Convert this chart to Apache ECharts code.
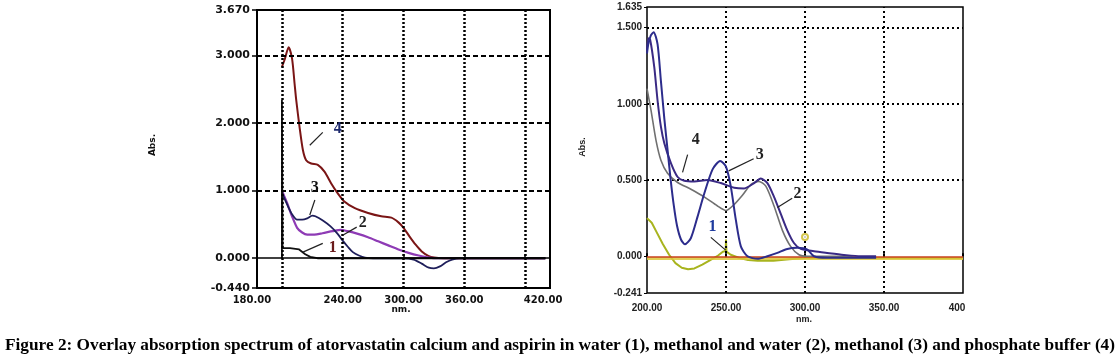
<!DOCTYPE html>
<html><head><meta charset="utf-8">
<script src="https://cdn.jsdelivr.net/npm/echarts@6/dist/echarts.min.js"></script>
<style>html,body{margin:0;padding:0;background:#fff}#c{width:1119px;height:361px}</style>
</head><body><div id="c"></div>
<script>
// ---------- Left panel data (wavelength nm, absorbance) ----------
const L1_nm  = [180, 180, 180.6, 188, 197, 203, 208, 215, 440];
const L1_abs = [0, 2.34, 0.15, 0.15, 0.13, 0.06, 0.02, 0.0, 0.0];
const L2_nm  = [180.5, 185, 190, 195, 200, 205, 212, 220, 230, 238, 245, 255, 265, 275, 285, 295, 305, 315, 325, 335, 440];
const L2_abs = [0.98, 0.82, 0.62, 0.45, 0.38, 0.35, 0.35, 0.37, 0.40, 0.42, 0.40, 0.36, 0.31, 0.25, 0.19, 0.13, 0.08, 0.04, 0.01, 0.0, 0.0];
const L3_nm  = [180, 185, 190, 195, 200, 205, 210, 213, 220, 228, 235, 240, 245, 250, 256, 262, 270, 300, 310, 318, 325, 330, 336, 342, 348, 355, 440];
const L3_abs = [0.97, 0.8, 0.65, 0.57, 0.57, 0.59, 0.63, 0.62, 0.56, 0.47, 0.36, 0.26, 0.17, 0.09, 0.04, 0.01, 0.0, 0.0, -0.02, -0.08, -0.14, -0.15, -0.12, -0.06, -0.02, 0.0, 0.0];
const L4_nm  = [180, 183, 186.6, 190, 192.5, 194.1, 197.4, 200.7, 203.9, 208.9, 215.4, 222, 228.5, 235.1, 241.6, 252, 265, 278, 288, 295, 300, 306, 312, 318, 324, 330, 340, 440];
const L4_abs = [2.83, 2.95, 3.12, 2.95, 2.58, 2.34, 1.94, 1.6, 1.45, 1.4, 1.38, 1.28, 1.11, 0.96, 0.84, 0.74, 0.67, 0.62, 0.6, 0.53, 0.45, 0.32, 0.2, 0.1, 0.04, 0.01, 0.0, 0.0];
const L_yTicks = [-0.44, 0, 1, 2, 3, 3.67];
const L_xTicks = [180, 240, 300, 360, 420];
const L_hGrid = [1, 2, 3];

// ---------- Right panel data ----------
const R1_nm  = [200, 203, 206, 210, 214, 218, 222, 226, 230, 235, 240, 245, 248, 249.8, 250, 250.3, 253, 258, 264, 270, 280, 290, 300, 310, 400];
const R1_abs = [0.25, 0.22, 0.16, 0.08, 0.01, -0.045, -0.075, -0.085, -0.08, -0.055, -0.025, 0.005, 0.03, 0.035, 0.11, 0.03, 0.01, -0.01, -0.025, -0.03, -0.03, -0.02, -0.012, -0.012, -0.012];
const R2_nm  = [200, 202.5, 205.7, 208.8, 213, 219.4, 227.8, 236.2, 244.6, 249.9, 255.2, 260.4, 265.7, 270.9, 275.2, 280.4, 285.7, 290.9, 296.2, 301.5, 330];
const R2_abs = [1.10, 0.96, 0.76, 0.63, 0.545, 0.484, 0.44, 0.39, 0.33, 0.30, 0.34, 0.40, 0.47, 0.49, 0.46, 0.33, 0.17, 0.065, 0.01, 0.0, 0.0];
const R3_nm  = [200, 200.8, 202.5, 204.2, 206.7, 208.8, 211, 213, 215, 217, 219, 221.5, 224, 227.8, 232, 236.2, 241.5, 246.3, 249.9, 253, 256.2, 259.4, 263.6, 270, 276.2, 282.5, 288.8, 295.2, 301.5, 305.7, 314, 345];
const R3_abs = [1.33, 1.39, 1.45, 1.47, 1.39, 1.15, 0.9, 0.7, 0.5, 0.33, 0.2, 0.11, 0.078, 0.12, 0.26, 0.41, 0.57, 0.625, 0.59, 0.46, 0.24, 0.065, 0.0, -0.017, 0.0, 0.022, 0.048, 0.055, 0.044, 0.0, -0.01, -0.01];
const R4_nm  = [200, 200.8, 202, 204.6, 206.7, 208.8, 211, 215.2, 219.4, 223.6, 229.9, 238.3, 246.7, 255.2, 261.5, 267.8, 272, 276.2, 280.4, 284.6, 288.8, 293, 297.3, 305.7, 314, 324.6, 335.2, 345];
const R4_abs = [1.35, 1.43, 1.42, 1.24, 1.02, 0.85, 0.74, 0.61, 0.52, 0.495, 0.49, 0.5, 0.48, 0.45, 0.445, 0.48, 0.51, 0.48, 0.39, 0.28, 0.17, 0.087, 0.048, 0.033, 0.022, 0.009, 0.0, 0.0];
const R_mark = [300, 0.126];
const R_yTicks = [-0.241, 0, 0.5, 1, 1.5, 1.635];
const R_hGrid = [0.5, 1, 1.5];
const R_vGrid = [250, 300, 350];

// ---------- Annotations (data coordinates) ----------
const L_annText = ['4', '3', '2', '1'];
const L_annPos  = [[235.1, 1.92], [212.5, 1.04], [259.7, 0.52], [230.2, 0.16]];
const L_annLine = [[[220.3, 1.86], [207.5, 1.67]], [[212.5, 0.86], [207.5, 0.64]], [[253.8, 0.46], [240, 0.34]], [[220.3, 0.22], [200.7, 0.09]]];
const L_annColor = ['#1e2a6e', '#111', '#222', '#6a1a1a'];
const R_annText = ['4', '3', '2', '1'];
const R_annPos  = [[230.9, 0.765], [271.3, 0.667], [295.3, 0.41], [241.5, 0.19]];
const R_annLine = [[[225.7, 0.667], [222.5, 0.55]], [[267.5, 0.64], [251.7, 0.56]], [[291.9, 0.38], [282.5, 0.32]], [[240.4, 0.124], [249.8, 0.04]]];
const R_annColor = ['#222', '#222', '#222', '#1e3a9e'];

const CAPTION = 'Figure 2: Overlay absorption spectrum of atorvastatin calcium and aspirin in water (1), methanol and water (2), methanol (3) and phosphate buffer (4)';

const zip = (a, b) => a.map((v, i) => [v, b[i]]);
const chart = echarts.init(document.getElementById('c'), null, {renderer: 'canvas'});

const LF = {fontFamily: 'DejaVu Sans', fontWeight: 'bold', color: '#111'};
const RF = {fontFamily: 'Liberation Sans', fontWeight: 'bold', color: '#222'};

function line(name, x, y, xi, color, width, smooth, z) {
  return {name, type: 'line', xAxisIndex: xi, yAxisIndex: xi, data: zip(x, y), showSymbol: false,
    smooth: smooth, lineStyle: {color, width}, z: z || 3, silent: true};
}
const noneMark = {symbol: ['none', 'none'], silent: true, label: {show: false}, animation: false};

const option = {
  animation: false,
  grid: [
    {left: 257, top: 10, width: 293, height: 278, show: true, borderColor: '#000', borderWidth: 2, backgroundColor: 'transparent'},
    {left: 647, top: 7, width: 316, height: 286, show: true, borderColor: '#000', borderWidth: 1.5, backgroundColor: 'transparent'}
  ],
  xAxis: [
    {type: 'value', gridIndex: 0, min: 155.4, max: 444.6,
     axisLine: {show: false}, splitLine: {show: false},
     axisTick: {show: true, inside: true, length: 4, customValues: L_xTicks, lineStyle: {color: '#000', width: 1.5}},
     axisLabel: {customValues: L_xTicks, margin: 7, fontSize: 10, ...LF,
       formatter: v => v === 180 ? '{l|180.00}' : (v === 420 ? '{r|420.00}' : v.toFixed(2)),
       rich: {l: {padding: [0, 60, 0, 0], fontSize: 10, ...LF}, r: {padding: [0, 0, 0, 36], fontSize: 10, ...LF}}}},
    {type: 'value', gridIndex: 1, min: 200, max: 400, interval: 50,
     axisLine: {show: false}, splitLine: {show: false},
     axisTick: {show: true, inside: true, length: 3, lineStyle: {color: '#000', width: 2}},
     axisLabel: {margin: 10, fontSize: 10, ...RF,
       formatter: v => v === 400 ? '{r|400}' : v.toFixed(2),
       rich: {r: {padding: [0, 12, 0, 0], fontSize: 10, ...RF}}}}
  ],
  yAxis: [
    {type: 'value', gridIndex: 0, min: -0.44, max: 3.67,
     axisLine: {show: false}, splitLine: {show: false},
     axisTick: {show: true, length: 5, customValues: L_yTicks, lineStyle: {color: '#000', width: 1.5}},
     axisLabel: {customValues: L_yTicks, margin: 7, fontSize: 11, ...LF, formatter: v => v.toFixed(3)}},
    {type: 'value', gridIndex: 1, min: -0.241, max: 1.635,
     axisLine: {show: false}, splitLine: {show: false},
     axisTick: {show: true, length: 3, customValues: R_yTicks, lineStyle: {color: '#000', width: 1}},
     axisLabel: {customValues: R_yTicks, margin: 5, fontSize: 10, ...RF, formatter: v => v.toFixed(3)}}
  ],
  series: [
    // left gridlines holder
    {type: 'line', xAxisIndex: 0, yAxisIndex: 0, data: [[300, 0]], showSymbol: false, lineStyle: {opacity: 0}, z: 1, silent: true,
     markLine: Object.assign({}, noneMark, {data: [
       ...L_hGrid.map(v => ({yAxis: v, lineStyle: {color: '#000', width: 2, type: [5, 3]}})),
       ...L_xTicks.map(v => ({xAxis: v, lineStyle: {color: '#000', width: 2.5, type: [2, 2]}})),
       {yAxis: 0, lineStyle: {color: '#000', width: 1.5, type: 'solid'}}
     ]})},
    // right gridlines holder
    {type: 'line', xAxisIndex: 1, yAxisIndex: 1, data: [[300, 0]], showSymbol: false, lineStyle: {opacity: 0}, z: 1, silent: true,
     markLine: Object.assign({}, noneMark, {data: [
       ...R_hGrid.map(v => ({yAxis: v, lineStyle: {color: '#000', width: 2, type: [2, 3]}})),
       ...R_vGrid.map(v => ({xAxis: v, lineStyle: {color: '#000', width: 2, type: [2, 3]}}))
     ]})},
    line('L4', L4_nm, L4_abs, 0, '#7a1515', 2, 0.25),
    line('L2', L2_nm, L2_abs, 0, '#8e3bb5', 2.2, 0.25),
    line('L3', L3_nm, L3_abs, 0, '#1e1e5a', 1.8, 0.25),
    line('L1', L1_nm, L1_abs, 0, '#111111', 1.8, false),
    // right
    Object.assign(line('R1', R1_nm, R1_abs, 1, '#a8b41e', 2, false, 4), {
      markLine: Object.assign({}, noneMark, {data: [
        {yAxis: -0.012, lineStyle: {color: '#dcc83a', width: 3, type: 'solid', opacity: 0.85}},
        {yAxis: 0, lineStyle: {color: '#c8401e', width: 1.5, type: 'solid'}}]})
    }),
    {type: 'scatter', xAxisIndex: 1, yAxisIndex: 1, data: [R_mark], symbol: 'emptyCircle', symbolSize: 6,
     itemStyle: {color: '#c8b820', borderColor: '#c8b820', borderWidth: 1.5}, z: 5, silent: true},
    line('R2', R2_nm, R2_abs, 1, '#707070', 1.6, 0.25, 5),
    line('R4', R4_nm, R4_abs, 1, '#3a2a84', 2, 0.25, 6),
    line('R3', R3_nm, R3_abs, 1, '#2c2c8c', 2, 0.25, 7)
  ]
};
chart.setOption(option);

// ---------- graphic layer: annotations, axis names, caption ----------
const g = [];
function ann(texts, pos, lines, colors, gi) {
  texts.forEach((t, i) => {
    const p = chart.convertToPixel({gridIndex: gi}, pos[i]);
    g.push({type: 'text', x: p[0], y: p[1], z: 20,
      style: {text: t, font: 'bold 16px "Liberation Serif"', fill: colors[i], align: 'center', verticalAlign: 'middle'}});
    const a = chart.convertToPixel({gridIndex: gi}, lines[i][0]);
    const b = chart.convertToPixel({gridIndex: gi}, lines[i][1]);
    g.push({type: 'line', z: 20, shape: {x1: a[0], y1: a[1], x2: b[0], y2: b[1]}, style: {stroke: '#222', lineWidth: 1.2}});
  });
}
ann(L_annText, L_annPos, L_annLine, L_annColor, 0);
ann(R_annText, R_annPos, R_annLine, R_annColor, 1);

g.push({type: 'text', x: 153, y: 145, rotation: Math.PI / 2, style: {text: 'Abs.', font: 'bold 9px "DejaVu Sans"', fill: '#111', align: 'center', verticalAlign: 'middle'}});
g.push({type: 'text', x: 583, y: 147, rotation: Math.PI / 2, style: {text: 'Abs.', font: 'bold 9px "Liberation Sans"', fill: '#222', align: 'center', verticalAlign: 'middle'}});
g.push({type: 'text', x: 401, y: 310, style: {text: 'nm.', font: 'bold 9px "DejaVu Sans"', fill: '#111', align: 'center', verticalAlign: 'middle'}});
g.push({type: 'text', x: 804, y: 320, style: {text: 'nm.', font: 'bold 9px "Liberation Sans"', fill: '#222', align: 'center', verticalAlign: 'middle'}});

const capFont = 'bold 16px "Liberation Serif"';
const ctx = document.createElement('canvas').getContext('2d');
ctx.font = capFont;
const capW = ctx.measureText(CAPTION).width;
g.push({type: 'text', x: 5, y: 346, scaleX: 1110 / capW, style: {text: CAPTION, font: capFont, fill: '#000', align: 'left', verticalAlign: 'middle'}});

chart.setOption({graphic: g});
</script>
</body></html>
